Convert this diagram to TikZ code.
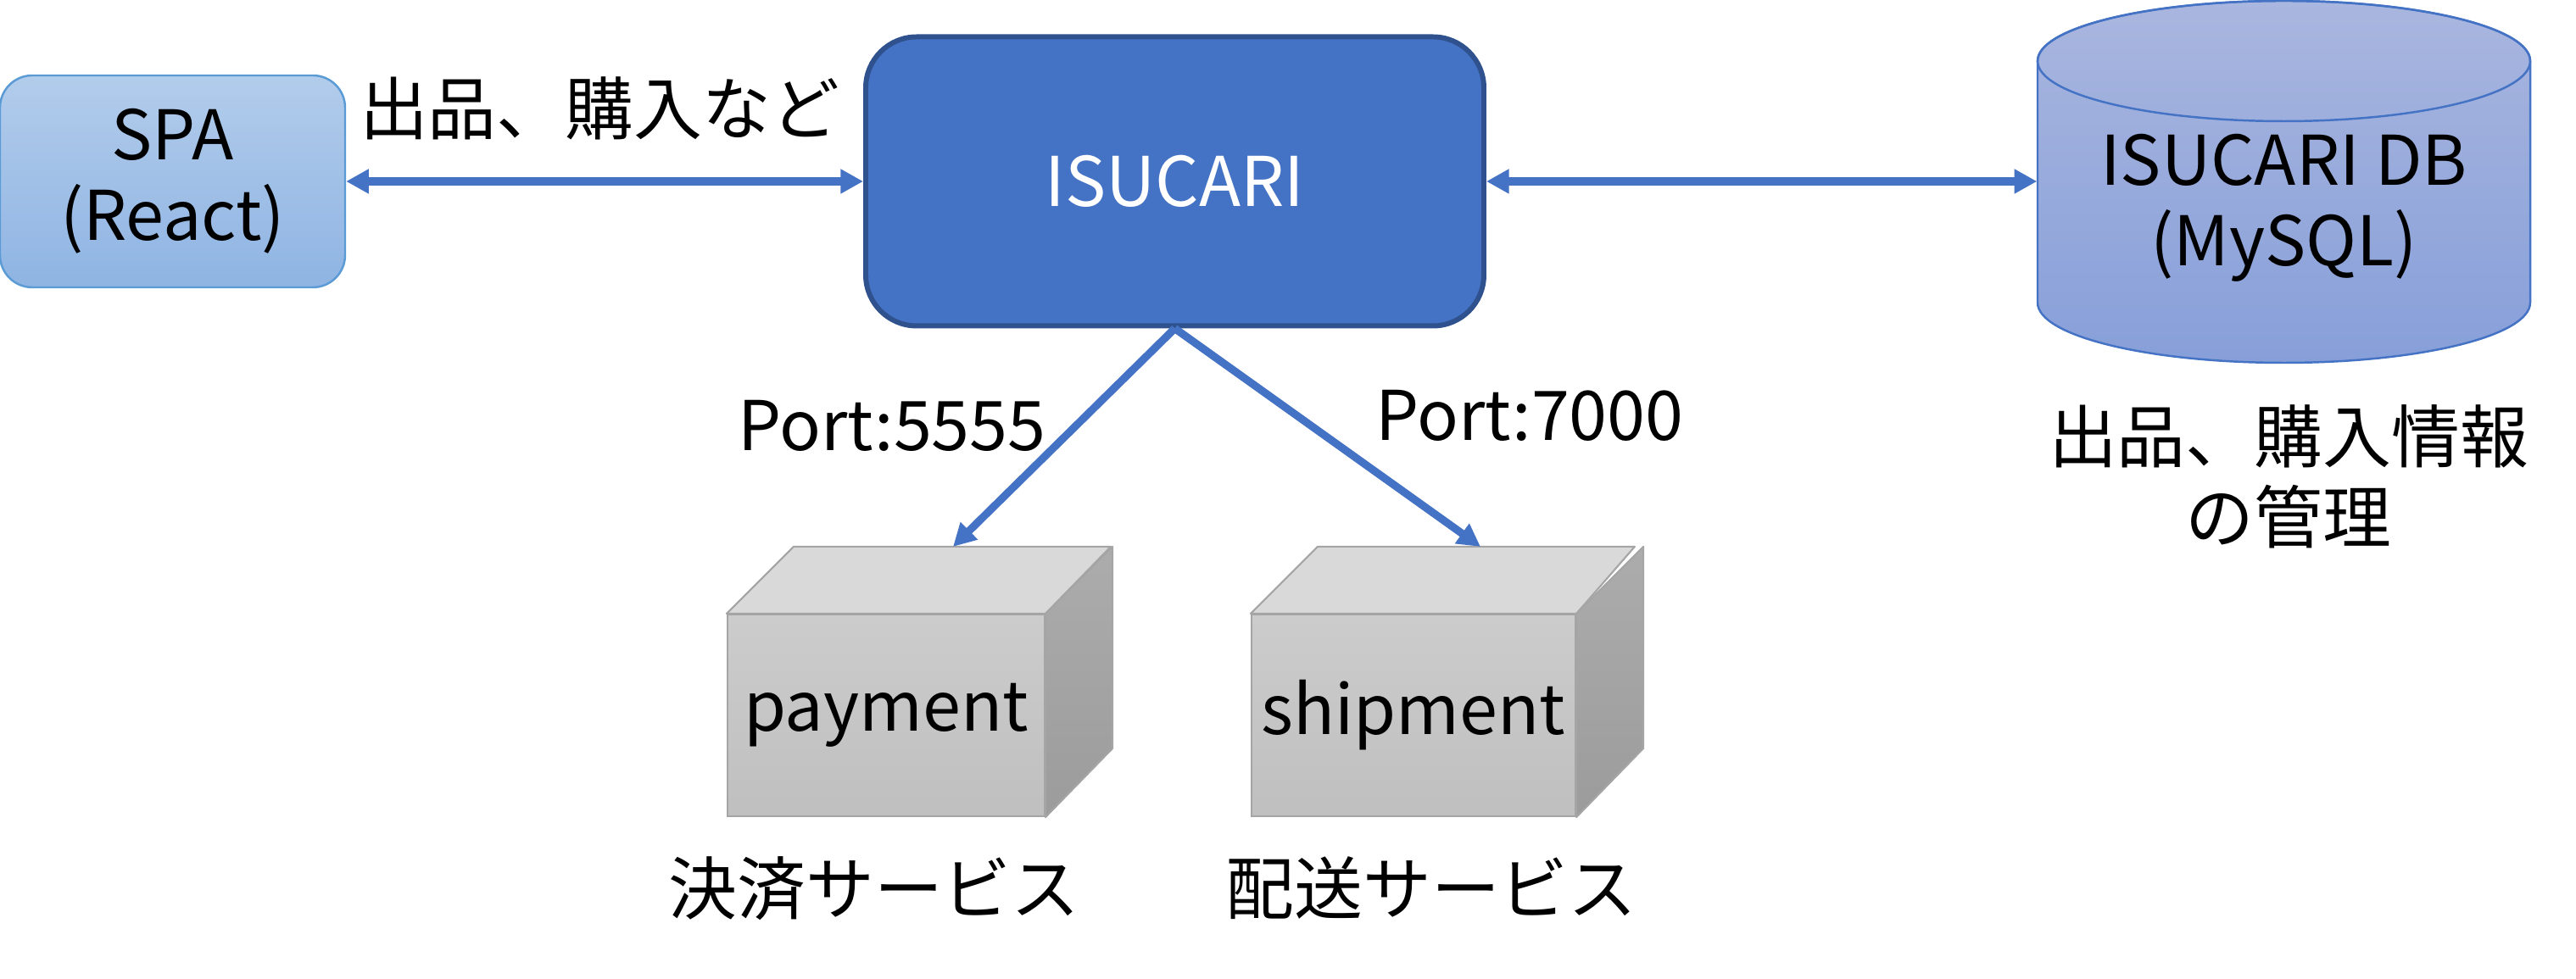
\documentclass[tikz,border=0pt]{standalone}
\usepackage{fontspec}
\setmainfont{Noto Sans CJK JP}
\usepackage{tikz}
\usetikzlibrary{arrows.meta,positioning}

\definecolor{isublue}{HTML}{4472C4}
\definecolor{isuedge}{HTML}{2F528F}
\definecolor{spaedge}{HTML}{5B9BD5}
\definecolor{spatop}{HTML}{B2CCEB}
\definecolor{spabot}{HTML}{8FB4E3}
\definecolor{dbtop}{HTML}{A9B6DF}
\definecolor{dbbot}{HTML}{879FD9}
\definecolor{cubeedge}{HTML}{A5A5A5}
\definecolor{cubetop}{HTML}{D9D9D9}

\begin{document}
\begin{tikzpicture}[>={Triangle[length=7.6pt,width=7.8pt]},
  every node/.style={font=\fontsize{23}{27}\selectfont},
  link/.style={<->,draw=isublue,line width=2.6pt},
  call/.style={->,draw=isublue,line width=2.6pt},
  client node/.style={rectangle,rounded corners=0.38cm,draw=spaedge,line width=0.7pt,
    top color=spatop,bottom color=spabot,minimum width=4.07cm,minimum height=2.5cm,align=center},
  app node/.style={rectangle,rounded corners=0.6cm,draw=isuedge,line width=1.7pt,
    fill=isublue,text=white,minimum width=7.29cm,minimum height=3.41cm},
  front face/.style={rectangle,draw=cubeedge,line width=0.6pt,top color=gray!40,
    bottom color=gray!50,minimum width=3.74cm,minimum height=2.38cm},
  top face/.style={draw=cubeedge,line width=0.6pt,line join=round,fill=cubetop},
  side face/.style={draw=cubeedge,line width=0.6pt,line join=round,top color=gray!65,bottom color=gray!78}]

  \useasboundingbox (0,0) rectangle (30.38,11.55);

  \node[client node] (spa) at (2.035,9.41) {SPA\\(React)};
  \node[app node] (isucari) at (13.855,9.41) {ISUCARI};

  % database cylinder
  \coordinate (dbc) at (26.935,9.405);
  \path[top color=dbtop,bottom color=dbbot,draw=isublue,line width=0.7pt]
    ([shift={(-2.905,1.425)}]dbc) -- ([shift={(-2.905,-1.425)}]dbc)
    arc[start angle=180,end angle=360,x radius=2.905cm,y radius=0.71cm]
    -- ([shift={(2.905,1.425)}]dbc)
    arc[start angle=0,end angle=180,x radius=2.905cm,y radius=0.71cm] -- cycle;
  \draw[isublue,line width=0.7pt] ([yshift=1.425cm]dbc) ellipse[x radius=2.905cm,y radius=0.71cm];
  \node[minimum width=5.81cm,inner sep=0pt,align=center] (db) at (26.935,9.10) {ISUCARI DB\\(MySQL)};

  % services
  \node[front face] (payment) at (10.45,3.11) {payment};
  \node[front face] (shipment) at (16.67,3.11) {shipment};
  \foreach \svc in {payment,shipment} {
    \filldraw[top face] (\svc.north west) -- ++(0.79,0.79) -- ++(3.74,0)
      -- (\svc.north east) -- cycle;
    \filldraw[side face] (\svc.north east) -- ++(0.79,0.79) -- ++(0,-2.38)
      -- (\svc.south east) -- cycle;
    \coordinate (\svc-back) at ([shift={(0.79,0.79)}]\svc.north);
  }

  \draw[link] (spa.east) -- (isucari.west);
  \draw[link] (isucari.east) -- (isucari.east -| db.west);
  \draw[call] (isucari.south) -- (payment-back);
  \draw[call] (isucari.south) -- (shipment-back);

  \node (order) at (7.07,10.27) {出品、購入など};
  \node (port pay) at (10.52,6.53) {Port:5555};
  \node (port ship) at (18.04,6.65) {Port:7000};
  \node[align=center] (dbnote) at (26.99,5.93) {出品、購入情報\\の管理};
  \node (paynote) at (10.31,1.07) {決済サービス};
  \node (shipnote) at (16.88,1.07) {配送サービス};

\end{tikzpicture}
\end{document}
